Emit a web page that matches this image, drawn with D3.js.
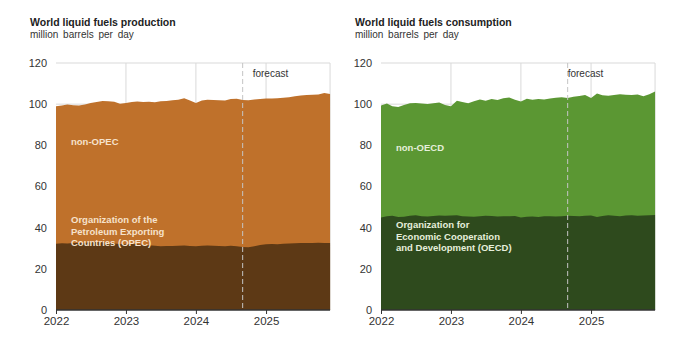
<!DOCTYPE html>
<html>
<head>
<meta charset="utf-8">
<script src="https://cdn.jsdelivr.net/npm/d3@7"></script>
<style>
  body { margin: 0; background: #fff; }
  text { font-family: "Liberation Sans", Arial, sans-serif; }
</style>
</head>
<body>
<svg id="chart" width="700" height="353"></svg>
<script>
// *******************
// data (monthly, Jan 2022 - Dec 2025)
// *******************

const yearLabels = ["2022", "2023", "2024", "2025"];
const yTicks = [0, 20, 40, 60, 80, 100, 120];
const forecastStart = new Date(2024, 8, 1);

// total world production
const productionTotal = [
  99.0, 99.3, 99.8, 99.5, 99.4, 99.8, 100.6, 101.1, 101.5, 101.4, 101.2, 100.2,
  100.6, 101.0, 101.3, 101.0, 101.2, 100.9, 101.4, 101.5, 101.9, 102.2, 102.9, 101.8,
  100.6, 101.8, 102.2, 102.0, 101.9, 101.8, 102.5, 102.6, 102.0, 101.9, 102.3, 102.5,
  102.7, 102.8, 102.9, 103.1, 103.4, 103.8, 104.2, 104.5, 104.6, 104.7, 105.4, 105.0
];
// OPEC production
const opecProduction = [
  32.2, 32.4, 32.3, 32.5, 32.6, 32.7, 32.9, 33.0, 32.9, 32.6, 32.3, 32.1,
  32.0, 32.1, 32.0, 31.6, 31.4, 31.2, 31.0, 31.1, 31.1, 31.2, 31.3, 31.1,
  31.0, 31.2, 31.3, 31.2, 31.1, 31.0, 31.2, 31.0, 30.6, 30.5, 31.0, 31.6,
  32.0, 32.1, 32.0, 32.2, 32.3, 32.4, 32.5, 32.6, 32.6, 32.7, 32.6, 32.5
];
// total world consumption
const consumptionTotal = [
  99.3, 100.3, 99.0, 98.6, 99.6, 100.4, 100.6, 100.3, 100.1, 100.4, 100.8, 99.6,
  99.0, 101.7, 101.0, 100.4, 101.4, 102.3, 101.6, 102.5, 102.0, 102.9, 103.2, 102.1,
  101.3, 102.6, 102.2, 102.5, 102.3, 102.8, 103.1, 103.3, 103.0, 103.6, 104.0, 104.4,
  103.0, 105.2, 104.3, 104.1, 104.4, 104.8, 104.6, 104.4, 104.7, 103.9, 104.8, 106.1
];
// OECD consumption
const oecdConsumption = [
  45.0, 45.6, 45.8, 45.2, 45.3, 45.8, 46.0, 45.6, 45.4, 45.7, 45.9, 45.8,
  45.9, 46.0, 45.6, 45.4, 45.3, 45.6, 45.8, 45.7, 45.4, 45.6, 45.5, 45.7,
  45.0, 45.3, 45.4, 45.2, 45.5, 45.6, 45.4, 45.6, 45.8, 45.7, 45.6, 45.8,
  45.9, 45.2, 45.7, 46.0, 45.8, 45.6, 45.9, 46.0, 45.8, 45.9, 46.0, 46.1
];

const months = d3.range(productionTotal.length).map((i) => new Date(2022, i, 1));

// *******************
// layout
// *******************

const svg = d3.select("#chart");
const PLOT = { TOP: 63, BOTTOM: 310 };

const panels = [
  {
    title: "World liquid fuels production",
    left: 56,
    titleX: 30,
    total: productionTotal,
    inner: opecProduction,
    outerColor: "#bf712b",
    innerColor: "#5d3915",
    labelColor: "#f6e2cc",
    forecastDx: 10,
    outerLabel: { text: ["non-OPEC"], y: 145 },
    innerLabel: {
      text: ["Organization of the", "Petroleum Exporting", "Countries (OPEC)"],
      y: 223
    }
  },
  {
    title: "World liquid fuels consumption",
    left: 381,
    titleX: 355,
    total: consumptionTotal,
    inner: oecdConsumption,
    outerColor: "#5b9733",
    innerColor: "#2e4a1d",
    labelColor: "#e6efdc",
    forecastDx: 0,
    outerLabel: { text: ["non-OECD"], y: 151 },
    innerLabel: {
      text: ["Organization for", "Economic Cooperation", "and Development (OECD)"],
      y: 228
    }
  }
];

const y = d3.scaleLinear().domain([0, 120]).range([PLOT.BOTTOM, PLOT.TOP]);

panels.forEach((p) => {
  const g = svg.append("g");
  const x = d3
    .scaleTime()
    .domain([new Date(2022, 0, 1), new Date(2026, 0, 1)])
    .range([p.left, p.left + 280]);
  const xEnd = x(months[months.length - 1]);

  // titles
  g.append("text")
    .attr("x", p.titleX)
    .attr("y", 26)
    .attr("font-size", 10.5)
    .attr("font-weight", "bold")
    .attr("fill", "#222")
    .text(p.title);
  g.append("text")
    .attr("x", p.titleX)
    .attr("y", 38)
    .attr("font-size", 10)
    .attr("word-spacing", 2)
    .attr("fill", "#333")
    .text("million barrels per day");

  // gridlines
  g.append("g")
    .selectAll("line")
    .data(yTicks.slice(1))
    .join("line")
    .attr("x1", p.left)
    .attr("x2", xEnd)
    .attr("y1", (d) => y(d))
    .attr("y2", (d) => y(d))
    .attr("stroke", "#d9d9d9");
  g.append("g")
    .selectAll("line")
    .data(yearLabels.slice(1).map((d) => new Date(+d, 0, 1)).concat([months[months.length - 1]]))
    .join("line")
    .attr("x1", (d) => x(d))
    .attr("x2", (d) => x(d))
    .attr("y1", PLOT.TOP)
    .attr("y2", PLOT.BOTTOM)
    .attr("stroke", "#d9d9d9");

  // stacked areas
  const outerArea = d3
    .area()
    .x((d, i) => x(months[i]))
    .y0(y(0))
    .y1((d) => y(d));
  g.append("path").datum(p.total).attr("d", outerArea).attr("fill", p.outerColor);
  g.append("path").datum(p.inner).attr("d", outerArea).attr("fill", p.innerColor);

  // forecast divider
  g.append("line")
    .attr("x1", x(forecastStart))
    .attr("x2", x(forecastStart))
    .attr("y1", PLOT.TOP)
    .attr("y2", PLOT.BOTTOM)
    .attr("stroke", "#c4c4c4")
    .attr("stroke-dasharray", "5,3");
  g.append("text")
    .attr("x", x(forecastStart) + p.forecastDx)
    .attr("y", 77)
    .attr("font-size", 10)
    .attr("fill", "#333")
    .text("forecast");

  // y axis labels
  g.append("g")
    .selectAll("text")
    .data(yTicks)
    .join("text")
    .attr("x", p.left - 9)
    .attr("y", (d) => y(d))
    .attr("dy", "0.35em")
    .attr("text-anchor", "end")
    .attr("font-size", 11)
    .attr("fill", "#333")
    .text((d) => d);

  // x axis
  const xAxis = d3
    .axisBottom(x)
    .tickValues(yearLabels.map((d) => new Date(+d, 0, 1)))
    .tickFormat(d3.timeFormat("%Y"))
    .tickSize(4)
    .tickSizeOuter(0);
  const ax = g
    .append("g")
    .attr("transform", `translate(0,${PLOT.BOTTOM})`)
    .call(xAxis);
  ax.select(".domain").attr("d", `M${p.left},0H${xEnd}`).attr("stroke", "#333").attr("stroke-width", 1.5);
  ax.selectAll(".tick line").attr("stroke", "#333");
  ax.selectAll(".tick text")
    .attr("font-size", 11.5)
    .attr("font-family", "Liberation Sans, Arial, sans-serif")
    .attr("fill", "#333")
    .attr("y", 7);

  // series labels
  [p.outerLabel, p.innerLabel].forEach((lab) => {
    g.append("text")
      .attr("x", p.left + 15)
      .attr("y", lab.y)
      .attr("font-size", 9.5)
      .attr("font-weight", "bold")
      .attr("fill", p.labelColor)
      .selectAll("tspan")
      .data(lab.text)
      .join("tspan")
      .attr("x", p.left + 15)
      .attr("dy", (d, i) => (i === 0 ? 0 : 11.5))
      .text((d) => d);
  });
});
</script>
</body>
</html>
